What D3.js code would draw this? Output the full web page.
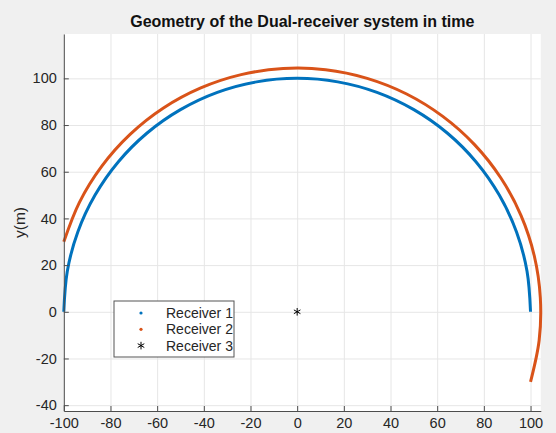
<!DOCTYPE html>
<html>
<head>
<meta charset="utf-8">
<script src="https://cdn.jsdelivr.net/npm/d3@7"></script>
<style>
  body { margin: 0; background: #f0f0f0; }
  svg { display: block; font-family: "Liberation Sans", Arial, sans-serif; }
</style>
</head>
<body>
<div id="canvas"></div>
<script>
// receiver 1: x, y (m)
const rx1 = [100, 98.5, 94, 86.6, 76.6, 64.3, 50, 34.2, 17.4, 0, -17.4, -34.2, -50, -64.3, -76.6, -86.6, -94, -98.5, -100];
const ry1 = [0, 17.4, 34.2, 50, 64.3, 76.6, 86.6, 94, 98.5, 100, 98.5, 94, 86.6, 76.6, 64.3, 50, 34.2, 17.4, 0];
// receiver 2
const rx2 = [100, 103.7, 104.2, 101.6, 95.9, 87.3, 76, 62.4, 46.9, 30, 12.2, -6, -24, -41.3, -57.3, -71.6, -83.7, -93.3, -100];
const ry2 = [-30, -12.2, 6, 24, 41.3, 57.3, 71.6, 83.7, 93.3, 100, 103.7, 104.2, 101.6, 95.9, 87.3, 76, 62.4, 46.9, 30];
// receiver 3
const rx3 = [0];
const ry3 = [0];

const xTicks = [-100, -80, -60, -40, -20, 0, 20, 40, 60, 80, 100];
const yTicks = [-40, -20, 0, 20, 40, 60, 80, 100];
const legendNames = ['Receiver 1', 'Receiver 2', 'Receiver 3'];

const W = 556, H = 433;
const padL = 63.8, padR = 540.8, padT = 34, padB = 411;
const ink = '#262626';

const svg = d3.select('#canvas').append('svg')
    .attr('width', W)
    .attr('height', H);

const xScale = d3.scaleLinear().domain([-100, 104.4]).range([padL, padR]);
const yScale = d3.scaleLinear().domain([-42.5, 119]).range([padB, padT]);

svg.append('rect')
    .attr('x', padL).attr('y', padT)
    .attr('width', padR - padL).attr('height', padB - padT)
    .attr('fill', 'white');

// grid
svg.append('g')
    .attr('transform', `translate(0, ${padB})`)
    .call(d3.axisBottom(xScale).tickValues(xTicks).tickSize(-(padB - padT)).tickFormat(''))
    .call(g => g.select('.domain').remove())
    .selectAll('line').attr('stroke', '#e6e6e6');

svg.append('g')
    .attr('transform', `translate(${padL}, 0)`)
    .call(d3.axisLeft(yScale).tickValues(yTicks).tickSize(-(padR - padL)).tickFormat(''))
    .call(g => g.select('.domain').remove())
    .selectAll('line').attr('stroke', '#e6e6e6');

// curves
const line = d3.line()
    .x(d => xScale(d[0]))
    .y(d => yScale(d[1]))
    .curve(d3.curveCatmullRom);

const pts1 = rx1.map((x, i) => [x, ry1[i]]);
const pts2 = rx2.map((x, i) => [x, ry2[i]]);

svg.append('path')
    .attr('d', line(pts2))
    .attr('fill', 'none')
    .attr('stroke', '#D95319')
    .attr('stroke-width', 3);

svg.append('path')
    .attr('d', line(pts1))
    .attr('fill', 'none')
    .attr('stroke', '#0072BD')
    .attr('stroke-width', 3);

const star = d3.symbol(d3.symbolAsterisk, 40);
svg.selectAll('.r3')
    .data(rx3.map((x, i) => [x, ry3[i]]))
    .enter()
    .append('path')
    .attr('class', 'r3')
    .attr('d', star)
    .attr('transform', d => `translate(${xScale(d[0])}, ${yScale(d[1])})`)
    .attr('stroke', 'black')
    .attr('stroke-width', 1)
    .attr('fill', 'none');

// axes
const fmt = d => String(d);
const xAxis = svg.append('g')
    .attr('transform', `translate(0, ${padB})`)
    .call(d3.axisBottom(xScale).tickValues(xTicks).tickFormat(fmt).tickSize(-5).tickPadding(7).tickSizeOuter(0));
const yAxis = svg.append('g')
    .attr('transform', `translate(${padL}, 0)`)
    .call(d3.axisLeft(yScale).tickValues(yTicks).tickFormat(fmt).tickSize(-5).tickPadding(7).tickSizeOuter(0));

[xAxis, yAxis].forEach(g => {
  g.select('.domain').attr('stroke', '#4d4d4d');
  g.selectAll('line').attr('stroke', '#4d4d4d');
  g.selectAll('text')
      .attr('fill', ink)
      .attr('font-size', 14.5)
      .attr('font-family', '"Liberation Sans", Arial, sans-serif');
});

svg.append('text')
    .text('Geometry of the Dual-receiver system in time')
    .attr('x', (padL + padR) / 2)
    .attr('y', 27)
    .attr('text-anchor', 'middle')
    .attr('font-weight', 'bold')
    .attr('font-size', 16)
    .attr('fill', '#111');

svg.append('text')
    .text('y(m)')
    .attr('transform', `translate(25, ${(padT + padB) / 2}) rotate(-90)`)
    .attr('text-anchor', 'middle')
    .attr('font-size', 15.5)
    .attr('fill', ink);

// legend
const legend = svg.append('g').attr('transform', 'translate(114, 301)');
legend.append('rect')
    .attr('width', 120).attr('height', 56)
    .attr('fill', 'white')
    .attr('stroke', '#555')
    .attr('stroke-width', 1);

const rows = legend.selectAll('.row')
    .data(legendNames)
    .enter()
    .append('g')
    .attr('transform', (d, i) => `translate(0, ${12 + i * 16.3})`);

rows.append('text')
    .text(d => d)
    .attr('x', 52)
    .attr('dy', '0.35em')
    .attr('font-size', 14)
    .attr('fill', ink);

rows.filter((d, i) => i < 2)
    .append('circle')
    .attr('cx', 27)
    .attr('r', 1.6)
    .attr('fill', (d, i) => i === 0 ? '#0072BD' : '#D95319');

rows.filter((d, i) => i === 2)
    .append('path')
    .attr('d', star)
    .attr('transform', 'translate(27, 0)')
    .attr('stroke', 'black')
    .attr('fill', 'none');
</script>
</body>
</html>
